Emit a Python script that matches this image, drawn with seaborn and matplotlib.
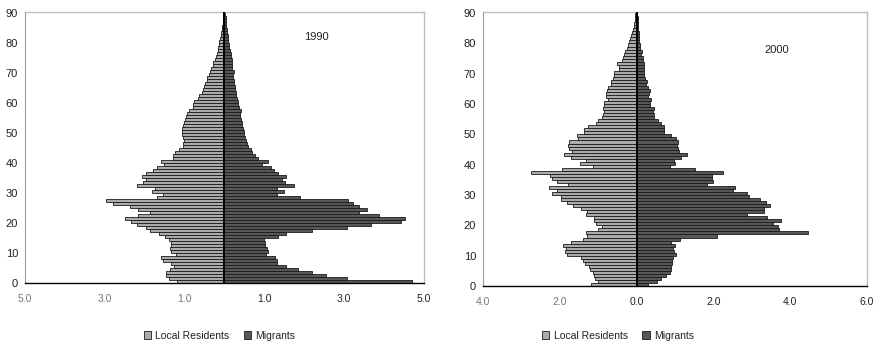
import numpy as np
import pandas as pd
import matplotlib
matplotlib.use("Agg")
import matplotlib.pyplot as plt
from matplotlib.patches import Patch
import seaborn as sns

# ages 0..90, share of population (%) per single year of age
ages = list(range(91))

local_1990 = [1.18, 1.39, 1.47, 1.47, 1.36, 1.26, 1.33, 1.54, 1.60, 1.22,
              1.34, 1.37, 1.35, 1.33, 1.40, 1.50, 1.65, 1.87, 1.97, 2.20,
              2.35, 2.50, 2.16, 1.87, 2.18, 2.36, 2.80, 2.96, 1.70, 1.54,
              1.82, 1.75, 2.20, 2.05, 1.97, 2.07, 1.97, 1.79, 1.68, 1.52,
              1.60, 1.30, 1.30, 1.24, 1.14, 1.05, 1.03, 1.01, 1.05, 1.06,
              1.07, 1.06, 1.04, 1.02, 1.00, 0.97, 0.94, 0.90, 0.80, 0.78,
              0.76, 0.67, 0.65, 0.57, 0.53, 0.51, 0.48, 0.45, 0.43, 0.38,
              0.36, 0.33, 0.30, 0.28, 0.24, 0.22, 0.19, 0.17, 0.16, 0.15,
              0.13, 0.11, 0.10, 0.09, 0.07, 0.06, 0.05, 0.04, 0.03, 0.025, 0.02]
migrants_1990 = [4.71, 3.07, 2.54, 2.20, 1.83, 1.55, 1.31, 1.31, 1.27, 1.04,
                 1.10, 1.06, 1.01, 1.01, 0.99, 1.35, 1.55, 2.20, 3.07, 3.67,
                 4.42, 4.53, 3.88, 3.38, 3.58, 3.36, 3.23, 3.10, 1.90, 1.31,
                 1.50, 1.31, 1.73, 1.51, 1.43, 1.54, 1.35, 1.24, 1.16, 0.94,
                 1.09, 0.83, 0.76, 0.70, 0.66, 0.58, 0.56, 0.54, 0.52, 0.50,
                 0.49, 0.47, 0.45, 0.43, 0.41, 0.40, 0.38, 0.41, 0.37, 0.35,
                 0.33, 0.32, 0.30, 0.28, 0.27, 0.26, 0.25, 0.23, 0.22, 0.21,
                 0.23, 0.20, 0.18, 0.18, 0.18, 0.16, 0.16, 0.15, 0.12, 0.12,
                 0.10, 0.09, 0.08, 0.07, 0.06, 0.05, 0.04, 0.035, 0.03, 0.025, 0.02]

local_2000 = [1.20, 1.01, 1.08, 1.10, 1.14, 1.22, 1.23, 1.34, 1.40, 1.46,
              1.81, 1.86, 1.84, 1.92, 1.71, 1.40, 1.29, 1.33, 1.00, 0.89,
              1.07, 1.12, 1.10, 1.33, 1.30, 1.46, 1.66, 1.81, 1.97, 1.98,
              2.21, 2.07, 2.27, 1.79, 2.07, 2.21, 2.25, 2.74, 1.95, 1.13,
              1.47, 1.33, 1.71, 1.88, 1.68, 1.77, 1.79, 1.77, 1.53, 1.56,
              1.36, 1.36, 1.26, 1.06, 1.01, 0.91, 0.87, 0.84, 0.88, 0.86,
              0.86, 0.74, 0.80, 0.80, 0.77, 0.74, 0.68, 0.67, 0.62, 0.60,
              0.58, 0.47, 0.45, 0.50, 0.38, 0.36, 0.34, 0.29, 0.26, 0.22,
              0.19, 0.16, 0.14, 0.11, 0.09, 0.07, 0.06, 0.05, 0.04, 0.03, 0.03]
migrants_2000 = [0.30, 0.52, 0.63, 0.76, 0.87, 0.89, 0.89, 0.91, 0.92, 0.94,
                 1.03, 0.98, 0.96, 1.00, 0.89, 1.12, 2.10, 4.47, 3.70, 3.68,
                 3.56, 3.77, 3.39, 2.88, 3.32, 3.32, 3.47, 3.38, 3.20, 2.93,
                 2.88, 2.51, 2.55, 1.84, 2.00, 1.95, 1.95, 2.26, 1.53, 0.86,
                 1.00, 0.98, 1.15, 1.30, 1.11, 1.08, 1.06, 1.08, 1.02, 0.89,
                 0.70, 0.70, 0.72, 0.63, 0.56, 0.46, 0.46, 0.42, 0.44, 0.35,
                 0.35, 0.37, 0.30, 0.33, 0.34, 0.29, 0.24, 0.27, 0.22, 0.20,
                 0.20, 0.18, 0.20, 0.18, 0.17, 0.16, 0.11, 0.13, 0.10, 0.09,
                 0.07, 0.06, 0.05, 0.05, 0.04, 0.04, 0.03, 0.03, 0.03, 0.02, 0.02]

groups = ["Local Residents", "Migrants"]
colors = {"Local Residents": "#ababab", "Migrants": "#575757"}


def make_frame(local, migr):
    a = np.array(ages)
    df1 = pd.DataFrame({"age": a + 0.5, "value": -np.array(local), "group": groups[0]})
    df2 = pd.DataFrame({"age": a + 0.5, "value": np.array(migr), "group": groups[1]})
    return pd.concat([df1, df2], ignore_index=True)


panels = [
    (make_frame(local_1990, migrants_1990), "1990", [-5, -3, -1, 1, 3, 5], (-5, 5),
     (2.3, 82), [0.0284, 0.182, 0.454, 0.783], 0.25),
    (make_frame(local_2000, migrants_2000), "2000", [-4, -2, 0, 2, 4, 6], (-4, 6),
     (3.65, 78), [0.5495, 0.1734, 0.4369, 0.792], 0.703),
]

sns.set_style("white")
plt.rcParams['font.family'] = ['Liberation Sans', 'DejaVu Sans']

fig = plt.figure(figsize=(8.79, 3.46), dpi=100)

for df, year, xt, xl, txt, pos, legx in panels:
    ax = fig.add_axes(pos)
    sns.barplot(data=df, x="value", y="age", hue="group", orient="h",
                native_scale=True, dodge=False, width=1.0, palette=colors,
                edgecolor="#1a1a1a", linewidth=0.6, legend=False, ax=ax)
    ax.axvline(0, color="black", lw=1.4, zorder=5)
    ax.set_xlim(*xl)
    ax.set_ylim(0, 90.4)
    ax.set_yticks(range(0, 91, 10))
    ax.set_yticklabels([str(v) for v in range(0, 91, 10)], fontsize=8, color="#222222")
    ax.set_xticks(xt)
    ax.set_xticklabels(["%.1f" % abs(v) for v in xt], fontsize=7.5, color="#222222")
    for lab, v in zip(ax.get_xticklabels(), xt):
        if v < 0:
            lab.set_color("#777777")
    ax.tick_params(axis="x", direction="in", length=4, pad=8, color="black")
    ax.tick_params(axis="y", length=0, pad=5)
    ax.set_xlabel("")
    ax.set_ylabel("")
    for s in ["top", "right"]:
        ax.spines[s].set_color("#bdbdbd")
        ax.spines[s].set_linewidth(1.0)
    ax.spines["left"].set_color("#9a9a9a")
    ax.spines["bottom"].set_color("black")
    ax.spines["bottom"].set_linewidth(1.0)
    ax.text(txt[0], txt[1], year, fontsize=8, ha="center", va="center", color="#222222")

    handles = [Patch(facecolor=colors[g], edgecolor="#1a1a1a", linewidth=0.6) for g in groups]
    leg = fig.legend(handles, groups, loc="center", bbox_to_anchor=(legx, 0.03), ncol=2,
                     frameon=False, fontsize=7.5, handlelength=0.7, handleheight=0.7,
                     handletextpad=0.4, columnspacing=1.4)
    for t in leg.get_texts():
        t.set_color("#222222")

fig.savefig("out.png", dpi=100)
